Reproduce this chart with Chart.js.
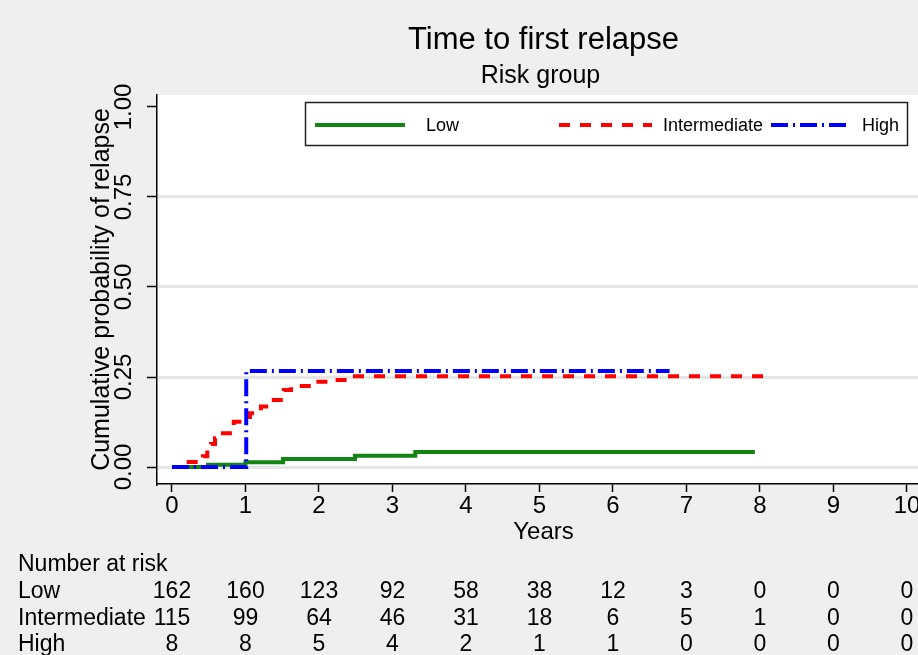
<!DOCTYPE html>
<html>
<head>
<meta charset="utf-8">
<script src="https://cdn.jsdelivr.net/npm/chart.js@4.4.1/dist/chart.umd.min.js"></script>
<style>
html, body { margin: 0; padding: 0; background: #efefef; overflow: hidden; }
#wrap { width: 930px; height: 655px; }
</style>
</head>
<body>
<div id="wrap"><canvas id="km" width="930" height="655"></canvas></div>
<script>
// x axis ticks / risk table columns
const years = [0, 1, 2, 3, 4, 5, 6, 7, 8, 9, 10];
const yTicks = [0, 0.25, 0.5, 0.75, 1];

// step curves (time in years, cumulative probability)
const lowTime = [0, 0.49, 1.0, 1.51, 2.49, 3.31, 7.93];
const lowProb = [0, 0.006, 0.013, 0.022, 0.031, 0.042, 0.042];

const intTime = [0.20, 0.42, 0.48, 0.53, 0.585, 0.64, 0.84, 1.0, 1.06, 1.21, 1.33, 1.52, 1.62, 1.96, 2.19, 2.45, 8.08];
const intProb = [0.014, 0.03, 0.047, 0.064, 0.08, 0.094, 0.126, 0.139, 0.149, 0.168, 0.186, 0.214, 0.225, 0.237, 0.242, 0.252, 0.252];

const highTime = [0, 1.01, 6.77];
const highProb = [0, 0.267, 0.267];

// number at risk
const riskLow = [162, 160, 123, 92, 58, 38, 12, 3, 0, 0, 0];
const riskInt = [115, 99, 64, 46, 31, 18, 6, 5, 1, 0, 0];
const riskHigh = [8, 8, 5, 4, 2, 1, 1, 0, 0, 0, 0];

const FONT = "'Liberation Sans', Arial, sans-serif";

function steps(t, p) {
    return t.map(function (v, i) { return { x: v, y: p[i] }; });
}

const bgPlugin = {
    id: 'bg',
    beforeDraw(chart) {
        const ctx = chart.ctx, a = chart.chartArea;
        ctx.save();
        ctx.fillStyle = '#efefef';
        ctx.fillRect(0, 0, chart.width, chart.height);
        ctx.fillStyle = '#ffffff';
        ctx.fillRect(a.left, a.top, a.right - a.left, a.bottom - a.top);
        ctx.restore();
    }
};

const decorPlugin = {
    id: 'decor',
    afterDraw(chart) {
        const ctx = chart.ctx, a = chart.chartArea;
        const x = chart.scales.x, y = chart.scales.y;
        const cx = (a.left + a.right) / 2;
        ctx.save();
        ctx.fillStyle = '#000';

        // titles
        ctx.textAlign = 'center';
        ctx.textBaseline = 'alphabetic';
        ctx.font = '31px ' + FONT;
        ctx.fillText('Time to first relapse', cx, 49);
        ctx.font = '25px ' + FONT;
        ctx.fillText('Risk group', cx - 3, 83);

        // y tick labels, vertical
        ctx.font = '24px ' + FONT;
        ctx.textBaseline = 'middle';
        yTicks.forEach(function (v) {
            ctx.save();
            ctx.translate(124, y.getPixelForValue(v));
            ctx.rotate(-Math.PI / 2);
            ctx.fillText(v.toFixed(2), 0, 0);
            ctx.restore();
        });

        // legend box
        ctx.fillStyle = '#fff';
        ctx.fillRect(305, 102, 603, 44);
        ctx.strokeStyle = '#222';
        ctx.lineWidth = 1.5;
        ctx.strokeRect(305.5, 102.5, 602, 43);
        const slots = [[315, 405, 426], [559, 652, 663], [771, 850, 862]];
        chart.data.datasets.forEach(function (ds, i) {
            const s = slots[i];
            ctx.beginPath();
            ctx.strokeStyle = ds.borderColor;
            ctx.lineWidth = ds.borderWidth;
            ctx.setLineDash(ds.borderDash || []);
            ctx.moveTo(s[0], 125);
            ctx.lineTo(s[1], 125);
            ctx.stroke();
            ctx.setLineDash([]);
            ctx.fillStyle = '#000';
            ctx.font = '18px ' + FONT;
            ctx.textAlign = 'left';
            ctx.textBaseline = 'middle';
            ctx.fillText(ds.label, s[2], 126);
        });

        // number at risk table
        ctx.fillStyle = '#000';
        ctx.textBaseline = 'alphabetic';
        ctx.font = '23px ' + FONT;
        ctx.textAlign = 'left';
        ctx.fillText('Number at risk', 18, 571);
        const rows = [['Low', riskLow], ['Intermediate', riskInt], ['High', riskHigh]];
        rows.forEach(function (r, i) {
            const by = 598 + i * 26.5;
            ctx.textAlign = 'left';
            ctx.fillText(r[0], 18, by);
            ctx.textAlign = 'center';
            r[1].forEach(function (n, j) {
                ctx.fillText(String(n), x.getPixelForValue(years[j]), by);
            });
        });
        ctx.restore();
    }
};

new Chart(document.getElementById('km'), {
    type: 'line',
    data: {
        datasets: [
            { label: 'Low', data: steps(lowTime, lowProb), borderColor: '#128412', borderWidth: 4,
              stepped: true, pointRadius: 0, fill: false, order: 3 },
            { label: 'Intermediate', data: steps(intTime, intProb), borderColor: '#ff0000', borderWidth: 4,
              borderDash: [11, 10], stepped: true, pointRadius: 0, fill: false, order: 2 },
            { label: 'High', data: steps(highTime, highProb), borderColor: '#0000ff', borderWidth: 4,
              borderDash: [17, 5, 2, 5], stepped: true, pointRadius: 0, fill: false, order: 1 }
        ]
    },
    options: {
        responsive: false,
        animation: false,
        events: [],
        layout: { padding: { top: 95, left: 0, right: 0, bottom: 0 } },
        plugins: { legend: { display: false }, title: { display: false }, tooltip: { enabled: false } },
        scales: {
            x: {
                type: 'linear', min: -0.204, max: 10.313,
                afterBuildTicks: function (s) { s.ticks = years.map(function (v) { return { value: v }; }); },
                afterFit: function (s) { s.height = 171; },
                grid: { drawOnChartArea: false, tickLength: 8, tickColor: '#000', tickWidth: 1.5, color: '#000' },
                border: { color: '#000', width: 1.5 },
                ticks: { font: { family: FONT, size: 24 }, color: '#000', padding: 0, maxRotation: 0, autoSkip: false },
                title: { display: true, text: 'Years', font: { family: FONT, size: 24 }, color: '#000',
                         padding: { top: 0, bottom: 108 } }
            },
            y: {
                type: 'linear', min: -0.0472, max: 1.0333,
                afterBuildTicks: function (s) { s.ticks = yTicks.map(function (v) { return { value: v }; }); },
                afterFit: function (s) { s.width = 157; },
                grid: {
                    color: function (c) { return (c.tick && c.tick.value === 1) ? 'rgba(0,0,0,0)' : '#e6e6e6'; },
                    lineWidth: 3, tickLength: 10, tickColor: '#000', tickWidth: 1.5
                },
                border: { color: '#000', width: 1.5 },
                ticks: { display: false },
                title: { display: true, text: 'Cumulative probability of relapse', font: { family: FONT, size: 25 },
                         color: '#000', padding: { top: 87, bottom: 0 } }
            }
        }
    },
    plugins: [bgPlugin, decorPlugin]
});
</script>
</body>
</html>
